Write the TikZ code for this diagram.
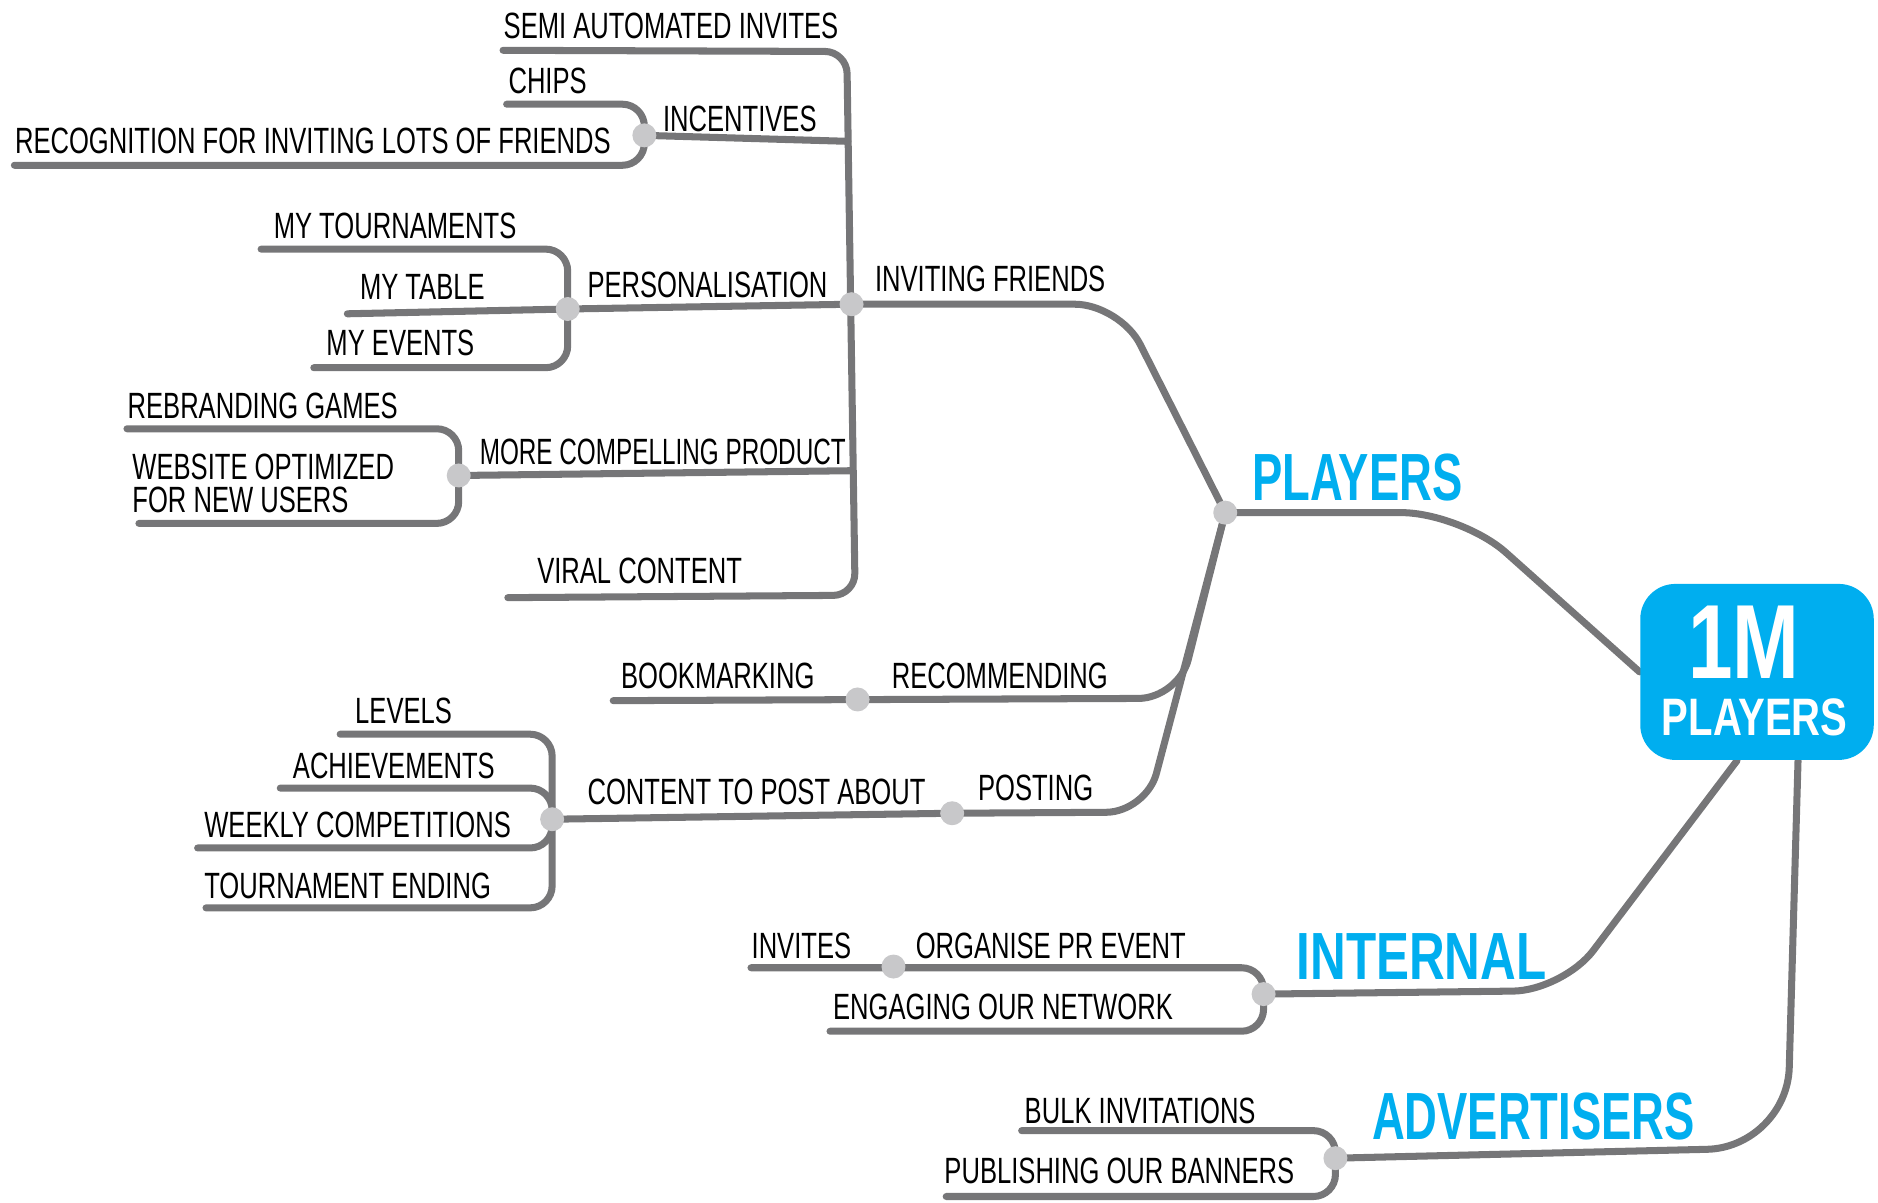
\documentclass[tikz,border=0pt]{standalone}
\usepackage{fontspec}
\setmainfont{Liberation Sans}
\newfontfamily\handfont[FakeStretch=0.70]{Liberation Sans}
\newfontfamily\handnarrow[FakeStretch=0.665]{Liberation Sans}
\newfontfamily\headfont[FakeStretch=0.68]{Liberation Sans}
\newfontfamily\headwide[FakeStretch=0.74]{Liberation Sans}
\newfontfamily\goalfont[FakeStretch=0.76]{Liberation Sans}
\usetikzlibrary{backgrounds}
\definecolor{mapgray}{RGB}{118,118,120}
\definecolor{knotgray}{RGB}{200,200,202}
\definecolor{mapblue}{RGB}{0,174,239}
\tikzset{
  branch/.style={draw=mapgray, line width=2pt, line cap=round, line join=round, rounded corners=0.22cm},
  knot/.style={circle, fill=knotgray, inner sep=0pt, minimum size=0.24cm},
  leaf/.style={anchor=base west, inner sep=0pt, font=\handfont\fontsize{10.4}{13}\selectfont},
  topic/.style={anchor=base west, inner sep=0pt, text=mapblue, font=\headfont\bfseries\fontsize{19}{22}\selectfont},
  goalbox/.style={fill=mapblue, rounded corners=0.35cm, minimum width=2.335cm, minimum height=1.76cm}
}
\begin{document}
\begin{tikzpicture}[x=0.011977cm, y=-0.011977cm]
    \useasboundingbox (0,0) rectangle (1568,1004);

    % goal box
    \node[goalbox] (goal) at (1467,561) {};
    \node[inner sep=0pt, text=white, font=\goalfont\bfseries\fontsize{30}{30}\selectfont] (goalNum) at (1456,536) {1M};
    \node[inner sep=0pt, text=white, font=\goalfont\bfseries\fontsize{15}{15}\selectfont] (goalTxt) at (1465,599) {PLAYERS};

    % knots
    \node[knot] (incent) at (538,113) {};
    \node[knot] (invite) at (711,254) {};
    \node[knot] (pers) at (474,258) {};
    \node[knot] (compel) at (383,397) {};
    \node[knot] (players) at (1023,428) {};
    \node[knot] (recomm) at (716,584) {};
    \node[knot] (posting) at (795,679) {};
    \node[knot] (content) at (461,684) {};
    \node[knot] (prevent) at (746,807) {};
    \node[knot] (internal) at (1055,830) {};
    \node[knot] (advert) at (1115,967) {};

    % free ends of the branches
    \coordinate (semiE) at (420,42);
    \coordinate (chipsE) at (423,87);
    \coordinate (recogE) at (12,138);
    \coordinate (tournE) at (218,208);
    \coordinate (tableE) at (290,262);
    \coordinate (eventsE) at (262,307);
    \coordinate (rebrandE) at (106,358);
    \coordinate (websiteE) at (116,437);
    \coordinate (viralE) at (424,499);
    \coordinate (bookE) at (512,585);
    \coordinate (levelsE) at (284,613);
    \coordinate (achieveE) at (234,658);
    \coordinate (weeklyE) at (165,708);
    \coordinate (endingE) at (172,758);
    \coordinate (invitesE) at (627,808);
    \coordinate (engageE) at (693,861);
    \coordinate (bulkE) at (853,944);
    \coordinate (publishE) at (790,999);

    % branches
    \begin{scope}[on background layer]
      \draw[branch] (semiE) -- (707,43) -- (714,497) -- (viralE);
      \draw[branch] (incent.center) -- (708,118);
      \draw[branch] (incent.center) |- (chipsE);
      \draw[branch] (incent.center) |- (recogE);
      \draw[branch] (invite.center) -- (pers.center);
      \draw[branch] (pers.center) |- (tournE);
      \draw[branch] (pers.center) -- (tableE);
      \draw[branch] (pers.center) |- (eventsE);
      \draw[branch] (compel.center) -- (712,393);
      \draw[branch] (compel.center) |- (rebrandE);
      \draw[branch] (compel.center) |- (websiteE);
      \draw[branch, rounded corners=0.45cm] (invite.center) -- (935,254) -- (players.center);
      \draw[branch, rounded corners=0.6cm] (players.center) -- (1220,428) -- (goal.west);
      \draw[branch, rounded corners=0.4cm] (players.center) -- (984,583) -- (bookE);
      \draw[branch, rounded corners=0.4cm] (players.center) -- (957,678) -- (posting.center);
      \draw[branch] (posting.center) -- (content.center);
      \draw[branch] (content.center) |- (levelsE);
      \draw[branch] (content.center) |- (achieveE);
      \draw[branch] (content.center) |- (weeklyE);
      \draw[branch] (content.center) |- (endingE);
      \draw[branch, rounded corners=0.5cm] ([xshift=-0.2cm]goal.south) -- (1305,827) -- (internal.center);
      \draw[branch] (internal.center) |- (invitesE);
      \draw[branch] (internal.center) |- (engageE);
      \draw[branch, rounded corners=0.8cm] ([xshift=0.41cm]goal.south) -- (1492,958) -- (advert.center);
      \draw[branch] (advert.center) |- (bulkE);
      \draw[branch] (advert.center) |- (publishE);
    \end{scope}

    % labels
    \node[leaf] (tSemi) at (420,32) {SEMI AUTOMATED INVITES};
    \node[leaf] (tChips) at (424,78) {CHIPS};
    \node[leaf] (tIncent) at (553,110) {INCENTIVES};
    \node[leaf] (tRecog) at (12,128) {RECOGNITION FOR INVITING LOTS OF FRIENDS};
    \node[leaf] (tTourn) at (228,199) {MY TOURNAMENTS};
    \node[leaf] (tTable) at (300,250) {MY TABLE};
    \node[leaf] (tEvents) at (272,297) {MY EVENTS};
    \node[leaf] (tPers) at (490,248) {PERSONALISATION};
    \node[leaf] (tInvite) at (730,243) {INVITING FRIENDS};
    \node[leaf] (tRebrand) at (106,349) {REBRANDING GAMES};
    \node[leaf, align=left, font=\handfont\fontsize{10.4}{9.4}\selectfont] (tWebsite) at (110,428) {WEBSITE OPTIMIZED\\ FOR NEW USERS};
    \node[leaf, font=\handnarrow\fontsize{10.4}{13}\selectfont] (tCompel) at (400,388) {MORE COMPELLING PRODUCT};
    \node[leaf] (tViral) at (448,487) {VIRAL CONTENT};
    \node[topic] (tPlayers) at (1045,418) {PLAYERS};
    \node[leaf] (tBook) at (518,575) {BOOKMARKING};
    \node[leaf] (tRecomm) at (744,575) {RECOMMENDING};
    \node[leaf] (tLevels) at (296,604) {LEVELS};
    \node[leaf] (tAchieve) at (244,650) {ACHIEVEMENTS};
    \node[leaf] (tWeekly) at (170,699) {WEEKLY COMPETITIONS};
    \node[leaf] (tEnding) at (170,750) {TOURNAMENT ENDING};
    \node[leaf] (tContent) at (490,672) {CONTENT TO POST ABOUT};
    \node[leaf] (tPosting) at (816,668) {POSTING};
    \node[leaf] (tInvites) at (627,800) {INVITES};
    \node[leaf] (tOrganise) at (764,800) {ORGANISE PR EVENT};
    \node[leaf] (tEngage) at (695,851) {ENGAGING OUR NETWORK};
    \node[topic, font=\headwide\bfseries\fontsize{19}{22}\selectfont] (tInternal) at (1082,818) {INTERNAL};
    \node[leaf] (tBulk) at (855,938) {BULK INVITATIONS};
    \node[leaf] (tPublish) at (788,988) {PUBLISHING OUR BANNERS};
    \node[topic] (tAdvert) at (1145,951) {ADVERTISERS};
\end{tikzpicture}
\end{document}
